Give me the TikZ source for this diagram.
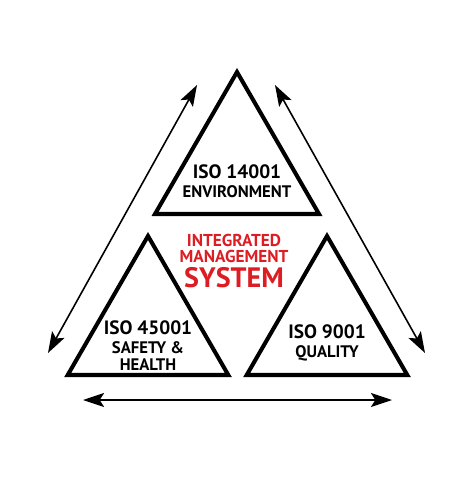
\documentclass[tikz,border=0pt]{standalone}
\usepackage{fontspec}
\setmainfont{PT Sans}
\usepackage{xcolor}
\usetikzlibrary{arrows.meta,positioning}

\definecolor{imsred}{RGB}{220,30,36}

\begin{document}
\begin{tikzpicture}[
    x=0.02cm, y=-0.02cm,
    node distance=3.5pt,
    part/.style={draw, line width=2.3pt, line join=miter},
    code/.style={inner sep=0pt, font=\fontsize{11}{11}\selectfont\bfseries},
    area/.style={inner sep=0pt, align=center, font=\fontsize{9.5}{9.5}\selectfont\bfseries},
    ims/.style={inner sep=0pt, text=imsred, font=\fontsize{9.8}{10}\selectfont\bfseries},
    cycle arrow/.style={{Stealth[length=12pt,width=8pt,inset=2.5pt]}-{Stealth[length=12pt,width=8pt,inset=2.5pt]}, line width=0.9pt}
]
    \useasboundingbox (0,0) rectangle (474,500);

    % Triangles
    \draw[part] (237,72) -- (319,214) -- (155,214) -- cycle;
    \draw[part] (148,236) -- (228.3,375) -- (67.7,375) -- cycle;
    \draw[part] (327,236) -- (407.3,375) -- (246.7,375) -- cycle;

    % Standards
    \node[code] (iso14001) at (237,172) {ISO 14001};
    \node[area, below=of iso14001] (environment) {ENVIRONMENT};
    \node[code] (iso45001) at (148,328) {ISO 45001};
    \node[area, below=of iso45001] (safety) {SAFETY \&\\HEALTH};
    \node[code] (iso9001) at (327,332) {ISO 9001};
    \node[area, below=of iso9001] (quality) {QUALITY};

    % Centre title
    \node[ims] (integrated) at (234,240) {INTEGRATED};
    \node[ims, below=2pt of integrated] (management) {MANAGEMENT};
    \node[ims, below=2pt of management, font=\fontsize{16}{16}\selectfont\bfseries] (system) {SYSTEM};

    % Arrow ends
    \coordinate (ltop) at (197,85);
    \coordinate (lbot) at (48,353);
    \coordinate (rtop) at (275,85);
    \coordinate (rbot) at (425,353);
    \coordinate (bleft) at (83,400);
    \coordinate (bright) at (392,400);

    % Arrows
    \draw[cycle arrow] (lbot) -- (ltop);
    \draw[cycle arrow] (rtop) -- (rbot);
    \draw[cycle arrow] (bleft) -- (bright);
\end{tikzpicture}
\end{document}
